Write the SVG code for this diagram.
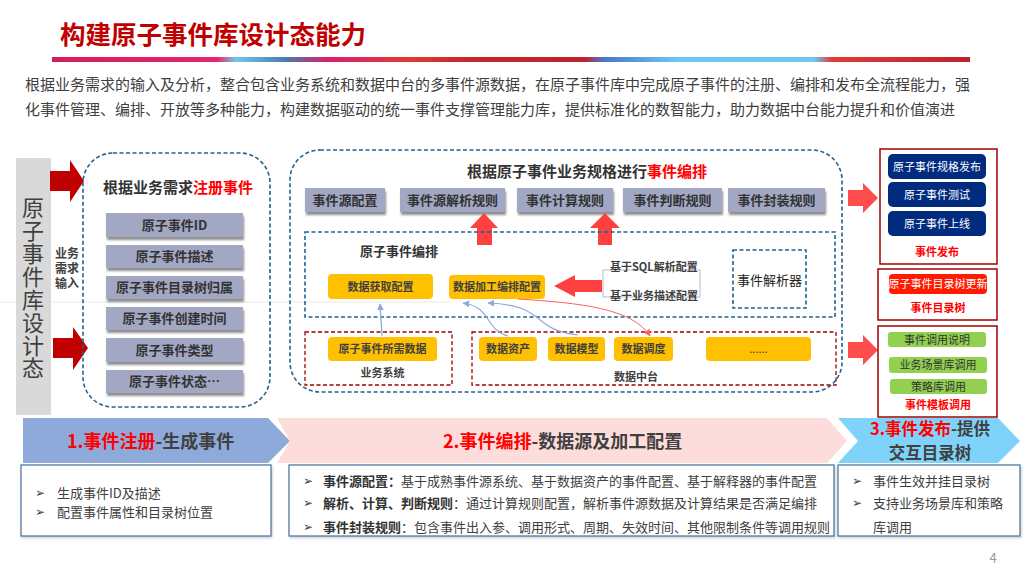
<svg xmlns="http://www.w3.org/2000/svg" width="1024" height="576" viewBox="0 0 1024 576">
<defs>
<style>
text{font-family:"Noto Sans CJK SC","Noto Sans",sans-serif;fill:#404040}
.b{font-weight:bold}
.red{fill:#ff0000}
.gbox{fill:#a2a8c3;filter:url(#sh)}
.gt{font-size:13px;font-weight:bold;fill:#333;text-anchor:middle}
.dash{fill:none;stroke:#1f6391;stroke-width:1.6;stroke-dasharray:4 2.5}
.rdash{fill:none;stroke:#a00000;stroke-width:1.3;stroke-dasharray:4 2.5}
.ybox{fill:#ffc000}
.yt{font-size:11px;font-weight:bold;fill:#404040;text-anchor:middle}
.navy{fill:#002b7f}
.wt{font-size:11px;fill:#fff;text-anchor:middle}
.green{fill:#92d050}
.gnt{font-size:11px;fill:#333;text-anchor:middle}
.rlab{font-size:11px;font-weight:bold;fill:#ff0000;text-anchor:middle}
.pbox{fill:#fff;stroke:#a00000;stroke-width:1.5}
.bbox{fill:#fff;stroke:#41719c;stroke-width:1.2;filter:url(#sh2)}
.bt{font-size:13px;fill:#404040}
.bul{font-size:12px;fill:#404040}
.ban{font-size:18px;font-weight:bold}
.cb{fill:none;stroke:#8eaadb;stroke-width:1.2}
</style>
<filter id="sh" x="-10%" y="-20%" width="120%" height="160%">
<feDropShadow dx="1" dy="3" stdDeviation="1.2" flood-color="#444" flood-opacity="0.6"/>
</filter>
<filter id="sh2" x="-5%" y="-10%" width="110%" height="130%">
<feDropShadow dx="1" dy="1.5" stdDeviation="1" flood-color="#999" flood-opacity="0.5"/>
</filter>
<linearGradient id="lg" gradientUnits="userSpaceOnUse" x1="52" y1="0" x2="970" y2="0">
<stop offset="0" stop-color="#d81b60"/>
<stop offset="0.18" stop-color="#e8236e"/>
<stop offset="0.2" stop-color="#6ec8f0"/>
<stop offset="0.255" stop-color="#4a7ab0"/>
<stop offset="0.3" stop-color="#d9206a"/>
<stop offset="0.39" stop-color="#e53935"/>
<stop offset="0.45" stop-color="#c62828"/>
<stop offset="0.58" stop-color="#c0202f"/>
<stop offset="0.6" stop-color="#4a75c8"/>
<stop offset="0.68" stop-color="#6cc8f0"/>
<stop offset="0.83" stop-color="#6ec8f0"/>
<stop offset="0.85" stop-color="#e53935"/>
<stop offset="1" stop-color="#c0202f"/>
</linearGradient>
<marker id="ab" viewBox="0 0 10 10" refX="9" refY="5" markerWidth="7" markerHeight="7" orient="auto-start-reverse" markerUnits="userSpaceOnUse">
<path d="M0,0 L10,5 L0,10 z" fill="#8eaadb"/>
</marker>
<marker id="ar" viewBox="0 0 10 10" refX="9" refY="5" markerWidth="7" markerHeight="7" orient="auto" markerUnits="userSpaceOnUse">
<path d="M0,0 L10,5 L0,10 z" fill="#ff6060"/>
</marker>
</defs>
<rect width="1024" height="576" fill="#fff"/>

<g id="header">
<text x="60" y="44" class="b" style="font-size:25.5px;fill:#c00000">构建原子事件库设计态能力</text>
<rect x="52" y="57" width="918" height="5" fill="url(#lg)"/>
<text x="25" y="90" style="font-size:15px">根据业务需求的输入及分析，整合包含业务系统和数据中台的多事件源数据，在原子事件库中完成原子事件的注册、编排和发布全流程能力，强</text>
<text x="25" y="115" style="font-size:15px">化事件管理、编排、开放等多种能力，构建数据驱动的统一事件支撑管理能力库，提供标准化的数智能力，助力数据中台能力提升和价值演进</text>
<line x1="0" y1="302" x2="450" y2="302" stroke="#e8e8e8" stroke-width="1"/>
</g>

<g id="side-bar">
<rect x="16" y="158" width="35" height="257" fill="#d9d9d9"/>
<text x="33" y="197" style="font-size:22px;fill:#404040;writing-mode:vertical-rl;letter-spacing:0.86px">原子事件库设计态</text>
</g>

<g id="input-arrows">
<polygon points="50,171 70,171 70,160 84,181 70,202 70,191 50,191" fill="#c00000"/>
<polygon points="53,338 73,338 73,327 88,348 73,370 73,358 53,358" fill="#c00000"/>
<g class="b" style="font-size:12px;fill:#333" text-anchor="middle">
<text x="67" y="258">业务</text><text x="67" y="273">需求</text><text x="67" y="288">输入</text>
</g>
</g>

<g id="register">
<rect x="83" y="153" width="187" height="254" rx="30" class="dash"/>
<text x="103" y="193" class="b" style="font-size:15px;fill:#333">根据业务需求<tspan class="red">注册事件</tspan></text>
<rect x="106" y="213" width="137" height="24" class="gbox"/>
<text x="174.5" y="229.5" class="gt">原子事件ID</text>
<rect x="106" y="245" width="137" height="23" class="gbox"/>
<text x="174.5" y="261" class="gt">原子事件描述</text>
<rect x="106" y="276" width="137" height="23" class="gbox"/>
<text x="174.5" y="292" class="gt">原子事件目录树归属</text>
<rect x="106" y="307" width="137" height="23" class="gbox"/>
<text x="174.5" y="323" class="gt">原子事件创建时间</text>
<rect x="106" y="338" width="137" height="24" class="gbox"/>
<text x="174.5" y="354.5" class="gt">原子事件类型</text>
<rect x="106" y="370" width="137" height="23" class="gbox"/>
<text x="174.5" y="386" class="gt">原子事件状态…</text>
</g>

<g id="orchestrate">
<rect x="290" y="150" width="552" height="242" rx="30" class="dash"/>
<text x="467" y="177" class="b" style="font-size:15px;fill:#333">根据原子事件业务规格进行<tspan class="red">事件编排</tspan></text>
<rect x="305" y="188" width="80" height="24" class="gbox"/>
<text x="345" y="204.5" class="gt">事件源配置</text>
<rect x="400" y="188" width="105" height="24" class="gbox"/>
<text x="452.5" y="204.5" class="gt">事件源解析规则</text>
<rect x="517" y="188" width="96" height="24" class="gbox"/>
<text x="565" y="204.5" class="gt">事件计算规则</text>
<rect x="623" y="188" width="99" height="24" class="gbox"/>
<text x="672.5" y="204.5" class="gt">事件判断规则</text>
<rect x="728" y="188" width="97" height="24" class="gbox"/>
<text x="776.5" y="204.5" class="gt">事件封装规则</text>
<polygon points="484,213 498,228 492,228 492,245 477,245 477,228 470,228" fill="#ff4040"/>
<polygon points="605,213 620,228 612,228 612,245 598,245 598,228 590,228" fill="#ff4040"/>
</g>

<g id="inner-orchestrate">
<rect x="305" y="232" width="530" height="85" class="dash"/>
<text x="360" y="256" class="b" style="font-size:13px;fill:#333">原子事件编排</text>
<rect x="328" y="274" width="105" height="25" rx="4" class="ybox"/>
<text x="380.5" y="290.5" class="yt">数据获取配置</text>
<rect x="449" y="275" width="96" height="24" rx="4" class="ybox"/>
<text x="497" y="291" class="yt">数据加工编排配置</text>
<polygon points="554,286 575,275 575,280 602,280 602,292 575,292 575,297" fill="#ff4040"/>
<rect x="603" y="270" width="97" height="27" fill="none" stroke="#b4bccb" stroke-width="1"/>
<text x="610" y="271" class="b" style="font-size:11px;fill:#404040">基于SQL解析配置</text>
<text x="610" y="300" class="b" style="font-size:11px;fill:#404040">基于业务描述配置</text>
<rect x="733" y="250" width="73" height="58" class="dash"/>
<text x="769.5" y="285" style="font-size:13px;fill:#222" text-anchor="middle">事件解析器</text>
</g>

<g id="biz-system">
<rect x="305" y="332" width="147" height="53" class="rdash"/>
<rect x="328" y="337" width="109" height="24" rx="4" class="ybox"/>
<text x="382.5" y="353" class="yt">原子事件所需数据</text>
<text x="382.5" y="377" class="yt">业务系统</text>
</g>

<g id="data-platform">
<rect x="472" y="332" width="364" height="53" class="rdash"/>
<rect x="479" y="337" width="58" height="24" rx="4" class="ybox"/>
<text x="508" y="353" class="yt">数据资产</text>
<rect x="548" y="337" width="57" height="24" rx="4" class="ybox"/>
<text x="576.5" y="353" class="yt">数据模型</text>
<rect x="614" y="337" width="59" height="24" rx="4" class="ybox"/>
<text x="643.5" y="353" class="yt">数据调度</text>
<rect x="706" y="337" width="105" height="24" rx="4" class="ybox"/>
<text x="758.5" y="353" class="yt" style="font-weight:normal">......</text>
<text x="636" y="381" class="yt">数据中台</text>
</g>

<g id="connectors">
<path d="M382,336 L380,304" class="cb" marker-end="url(#ab)"/>
<path d="M508,336 C485,330 492,307 463,303" class="cb" marker-end="url(#ab)"/>
<path d="M578,335 C530,330 548,305 488,303" class="cb" marker-end="url(#ab)"/>
<path d="M518,299 C580,303 632,308 650,336" fill="none" stroke="#ff6060" stroke-width="1" marker-end="url(#ar)"/>
</g>

<g id="output-arrows">
<polygon points="848,190 863,190 863,183 878,198 863,213 863,206 848,206" fill="#ff4d4d"/>
<polygon points="848,342 863,342 863,335 878,350 863,365 863,358 848,358" fill="#ff4d4d"/>
</g>

<g id="publish">
<rect x="880" y="149" width="117" height="115" class="pbox"/>
<rect x="888" y="154" width="98" height="25" rx="5" class="navy"/>
<text x="937" y="170.5" class="wt">原子事件规格发布</text>
<rect x="888" y="182" width="98" height="25" rx="5" class="navy"/>
<text x="937" y="198.5" class="wt">原子事件测试</text>
<rect x="888" y="211" width="98" height="25" rx="5" class="navy"/>
<text x="937" y="227.5" class="wt">原子事件上线</text>
<text x="937" y="256" class="rlab">事件发布</text>
</g>

<g id="catalog">
<rect x="878" y="269" width="119" height="51" class="pbox"/>
<rect x="889" y="274" width="98" height="20" rx="4" fill="#ff1a00"/>
<text x="938" y="288" class="wt">原子事件目录树更新</text>
<text x="938" y="312" class="rlab">事件目录树</text>
</g>

<g id="template">
<rect x="878" y="326" width="119" height="91" class="pbox"/>
<rect x="888" y="332" width="98" height="15" rx="3" class="green"/>
<text x="937" y="343.5" class="gnt">事件调用说明</text>
<rect x="889" y="357" width="98" height="16" rx="3" class="green"/>
<text x="938" y="369" class="gnt">业务场景库调用</text>
<rect x="890" y="379" width="97" height="15" rx="3" class="green"/>
<text x="938.5" y="390.5" class="gnt">策略库调用</text>
<text x="938" y="409" class="rlab">事件模板调用</text>
</g>

<g id="banner1">
<polygon points="23,418 268,418 290,441 268,463 23,463" fill="#8eaadb"/>
<text x="67" y="448" class="ban" style="fill:#404040"><tspan class="red">1.事件注册</tspan>-生成事件</text>
</g>
<g id="banner2">
<polygon points="277,418 827,418 847,441 827,463 277,463 290,441" fill="#fddcdc"/>
<text x="443" y="448" class="ban" style="fill:#404040"><tspan class="red">2.事件编排</tspan>-数据源及加工配置</text>
</g>
<g id="banner3">
<polygon points="838,418 998,418 1020,441 998,463 838,463 858,441" fill="#7fd3fa"/>
<text x="930" y="434.5" class="ban" style="fill:#404040;font-size:16.5px" text-anchor="middle"><tspan class="red">3.事件发布</tspan>-提供</text>
<text x="930" y="458.5" class="ban" style="fill:#404040;font-size:16.5px" text-anchor="middle">交互目录树</text>
</g>

<g id="desc1">
<rect x="21" y="465" width="250" height="71" class="bbox"/>
<text x="35" y="497" class="bul">➢</text><text x="57" y="497.5" class="bt">生成事件ID及描述</text>
<text x="35" y="516" class="bul">➢</text><text x="57" y="516.5" class="bt">配置事件属性和目录树位置</text>
</g>
<g id="desc2">
<rect x="289" y="465" width="545" height="71" class="bbox"/>
<text x="303" y="485" class="bul">➢</text><text x="323" y="485.5" class="bt"><tspan class="b" style="fill:#333">事件源配置：</tspan>基于成熟事件源系统、基于数据资产的事件配置、基于解释器的事件配置</text>
<text x="303" y="507" class="bul">➢</text><text x="323" y="507.5" class="bt"><tspan class="b" style="fill:#333">解析、计算、判断规则</tspan>：通过计算规则配置，解析事件源数据及计算结果是否满足编排</text>
<text x="303" y="531" class="bul">➢</text><text x="323" y="531.5" class="bt"><tspan class="b" style="fill:#333">事件封装规则</tspan>：包含事件出入参、调用形式、周期、失效时间、其他限制条件等调用规则</text>
</g>
<g id="desc3">
<rect x="838" y="465" width="182" height="71" class="bbox"/>
<text x="852" y="485" class="bul">➢</text><text x="873" y="485.5" class="bt">事件生效并挂目录树</text>
<text x="852" y="507" class="bul">➢</text><text x="873" y="507.5" class="bt">支持业务场景库和策略</text>
<text x="873" y="531.5" class="bt">库调用</text>
</g>
<text x="993" y="563" style="font-size:13px;fill:#999" text-anchor="middle">4</text>
</svg>
